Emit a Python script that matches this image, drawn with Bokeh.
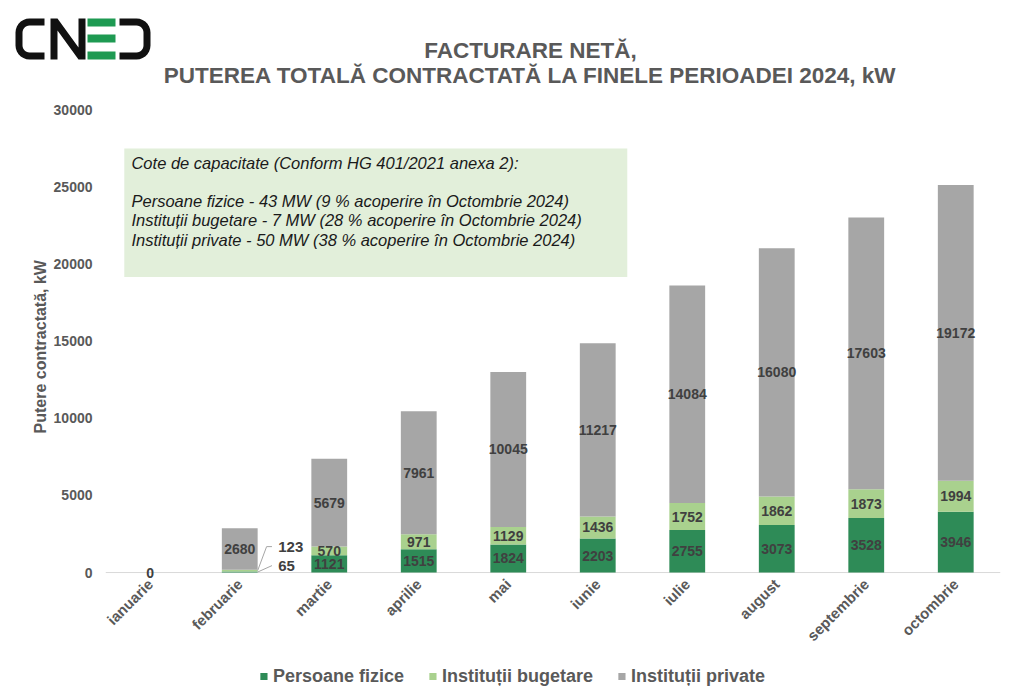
import math
import numpy as np
from bokeh.plotting import figure
from bokeh.layouts import column
from bokeh.models import (ColumnDataSource, BoxAnnotation, Label, Span,
                          Legend, LegendItem, FixedTicker, Range1d)
from bokeh.core.properties import value
from bokeh.embed import file_html
from bokeh.resources import INLINE

# ---------------- data ----------------
months = ["ianuarie", "februarie", "martie", "aprilie", "mai", "iunie",
          "iulie", "august", "septembrie", "octombrie"]
persoane_fizice = [0, 65, 1121, 1515, 1824, 2203, 2755, 3073, 3528, 3946]
institutii_bugetare = [0, 123, 570, 971, 1129, 1436, 1752, 1862, 1873, 1994]
institutii_private = [0, 2680, 5679, 7961, 10045, 11217, 14084, 16080, 17603, 19172]
y_ticks = [0, 5000, 10000, 15000, 20000, 25000, 30000]
series_names = ["Persoane fizice", "Instituții bugetare", "Instituții private"]
box_lines = [
    "Cote de capacitate (Conform HG 401/2021 anexa 2):",
    "Persoane fizice - 43 MW (9 % acoperire în Octombrie 2024)",
    "Instituții bugetare - 7 MW (28 % acoperire în Octombrie 2024)",
    "Instituții private - 50 MW (38 % acoperire în Octombrie 2024)",
]
title_lines = ["FACTURARE NETĂ,",
               "PUTEREA TOTALĂ CONTRACTATĂ LA FINELE PERIOADEI 2024, kW"]

# ---------------- style ----------------
FONT = "Liberation Sans"
C_PF = "#2E8B57"
C_IB = "#A9D18E"
C_IP = "#A6A6A6"
TXT = "#595959"
LBL = "#404040"
W = 1024
TOP_H = 100
FOOT_H = 45
MAIN_H = 698 - TOP_H - FOOT_H
Y_MIN = -450          # a little room under the baseline so its "0" label is not cut
FRAME_BOTTOM = 580    # page pixel of the frame bottom (y = Y_MIN)


def blank(fig):
    fig.xgrid.grid_line_color = None
    fig.ygrid.grid_line_color = None
    fig.outline_line_color = None


# ================= header figure (logo + title) =================
h = figure(width=W, height=TOP_H, output_backend="svg", toolbar_location=None,
           x_range=Range1d(0, W), y_range=Range1d(TOP_H, 0),
           x_axis_location=None, y_axis_location=None, min_border=0)
h.frame_align = False
blank(h)

for txt, yy in zip(title_lines, [50, 75]):
    h.text(x=[530], y=[yy], text=[txt], text_align="center", text_baseline="middle",
           text_font=value(FONT), text_font_style="bold", text_font_size="22.5px",
           text_color=TXT)


def rounded_c(x0, y0, x1, y1, t, r, mirror=False):
    outer = [(x1, y0)]
    for a in np.linspace(90, 180, 8):
        outer.append((x0 + r + r * math.cos(math.radians(a)),
                      y0 + r - r * math.sin(math.radians(a))))
    for a in np.linspace(180, 270, 8):
        outer.append((x0 + r + r * math.cos(math.radians(a)),
                      y1 - r - r * math.sin(math.radians(a))))
    outer.append((x1, y1))
    ri = max(r - t, 1)
    inner = [(x1, y1 - t)]
    for a in np.linspace(270, 180, 8):
        inner.append((x0 + t + ri + ri * math.cos(math.radians(a)),
                      y1 - t - ri - ri * math.sin(math.radians(a))))
    for a in np.linspace(180, 90, 8):
        inner.append((x0 + t + ri + ri * math.cos(math.radians(a)),
                      y0 + t + ri - ri * math.sin(math.radians(a))))
    inner.append((x1, y0 + t))
    pts = outer + inner
    xs = [q[0] for q in pts]
    ys = [q[1] for q in pts]
    if mirror:
        xs = [x0 + x1 - v for v in xs]
    return xs, ys


cx, cy = rounded_c(15, 18, 44, 59, 7, 14)
h.patch(cx, cy, fill_color="#111111", line_color=None)
nx = [50, 50, 57, 78, 78, 85, 85, 78, 57, 57]
ny = [59, 18, 18, 47, 18, 18, 59, 59, 30, 59]
h.patch(nx, ny, fill_color="#111111", line_color=None)
for top in [18, 34, 51]:
    h.quad(left=87, right=115, top=top, bottom=top + 8,
           fill_color="#1E9A52", line_color=None)
dx, dy = rounded_c(119, 18, 150, 59, 7, 14, mirror=True)
h.patch(dx, dy, fill_color="#111111", line_color=None)

# ================= main chart =================
x = list(range(len(months)))
src = ColumnDataSource(dict(x=x, pf=persoane_fizice, ib=institutii_bugetare,
                            ip=institutii_private))

p = figure(width=W, height=MAIN_H, output_backend="svg", toolbar_location=None,
           x_range=Range1d(-0.5, len(months) - 0.5), y_range=Range1d(Y_MIN, 30000),
           min_border_left=105, min_border_right=24, min_border_top=109 - TOP_H,
           min_border_bottom=MAIN_H - (FRAME_BOTTOM - TOP_H))
p.frame_align = False
blank(p)

# baseline at zero
p.add_layout(Span(location=0, dimension="width", line_color="#D9D9D9",
                  line_width=1, level="underlay"))

rs = p.vbar_stack(["pf", "ib", "ip"], x="x", width=0.4, source=src,
                  color=[C_PF, C_IB, C_IP], line_color=None)

p.yaxis.ticker = FixedTicker(ticks=y_ticks)
p.yaxis.axis_line_color = None
p.yaxis.major_tick_line_color = None
p.yaxis.minor_tick_line_color = None
p.yaxis.major_tick_out = 0
p.yaxis.major_label_standoff = 13
p.yaxis.major_label_text_font = FONT
p.yaxis.major_label_text_font_style = "bold"
p.yaxis.major_label_text_font_size = "14px"
p.yaxis.major_label_text_color = TXT
p.yaxis.axis_label = "Putere  contractată, kW"
p.yaxis.axis_label_text_font = FONT
p.yaxis.axis_label_text_font_style = "bold"
p.yaxis.axis_label_text_font_size = "16px"
p.yaxis.axis_label_text_color = TXT
p.yaxis.axis_label_standoff = 2

p.xaxis.ticker = FixedTicker(ticks=x)
p.xaxis.major_label_overrides = {i: m for i, m in enumerate(months)}
p.xaxis.axis_line_color = None
p.xaxis.major_tick_line_color = None
p.xaxis.minor_tick_line_color = None
p.xaxis.major_tick_out = 0
p.xaxis.major_label_orientation = math.pi / 4
p.xaxis.major_label_standoff = 2
p.xaxis.major_label_text_font = FONT
p.xaxis.major_label_text_font_style = "bold"
p.xaxis.major_label_text_font_size = "15px"
p.xaxis.major_label_text_color = TXT

# data labels
lx, ly, lt = [], [], []
for i in range(len(months)):
    pf, ib, ip = persoane_fizice[i], institutii_bugetare[i], institutii_private[i]
    total = pf + ib + ip
    if total == 0:
        lx.append(i); ly.append(total); lt.append(str(total))
        continue
    lx.append(i); ly.append(pf + ib + ip / 2); lt.append(str(ip))
    if i >= 2:
        lx.append(i); ly.append(pf + ib / 2); lt.append(str(ib))
        lx.append(i); ly.append(pf / 2); lt.append(str(pf))
p.text(x=lx, y=ly, text=lt, text_align="center", text_baseline="middle",
       text_font=value(FONT), text_font_style="bold", text_font_size="14px",
       text_color=LBL)

# februarie callouts
fi = 1
ib_y = 1680
pf_y = 450
p.line([fi + 0.2, fi + 0.3, fi + 0.36],
       [persoane_fizice[fi] + institutii_bugetare[fi] / 2, ib_y, ib_y],
       line_color="#A6A6A6", line_width=1)
p.line([fi + 0.2, fi + 0.36],
       [persoane_fizice[fi] / 2, pf_y],
       line_color="#A6A6A6", line_width=1)
p.text(x=[fi + 0.43, fi + 0.43], y=[ib_y, pf_y],
       text=[str(institutii_bugetare[fi]), str(persoane_fizice[fi])],
       text_align="left", text_baseline="middle", text_font=value(FONT),
       text_font_style="bold", text_font_size="15px", text_color=LBL)

# info box
p.add_layout(BoxAnnotation(left=-0.29, right=5.33, bottom=19150, top=27480,
                           fill_color="#E2EFDA", fill_alpha=1, line_color=None,
                           level="underlay"))
for txt, yy in zip(box_lines, [26510, 24050, 22820, 21530]):
    p.add_layout(Label(x=-0.21, y=yy, text=txt, text_font=FONT,
                       text_font_style="italic", text_font_size="16.5px",
                       text_color="#1A1A1A", text_baseline="middle"))

# ================= footer figure (legend) =================
f = figure(width=W, height=FOOT_H, output_backend="svg", toolbar_location=None,
           x_range=Range1d(0, 1), y_range=Range1d(0, 1),
           x_axis_location=None, y_axis_location=None, min_border=0)
f.frame_align = False
blank(f)
# legend-only renderers, kept outside the visible range of the footer
lr = [f.quad(left=[-3], right=[-2], bottom=[-3], top=[-2], fill_color=c, line_color=None)
      for c in [C_PF, C_IB, C_IP]]
legend = Legend(items=[LegendItem(label=n, renderers=[r]) for n, r in zip(series_names, lr)],
                orientation="horizontal", location="center",
                label_text_font=FONT, label_text_font_style="bold",
                label_text_font_size="18px", label_text_color=TXT,
                glyph_width=9, glyph_height=9, label_standoff=5, spacing=24,
                border_line_color=None, background_fill_alpha=0,
                margin=0, padding=4)
f.add_layout(legend)

layout = column(h, p, f, spacing=0)
open("out.html", "w").write(file_html(layout, INLINE))
